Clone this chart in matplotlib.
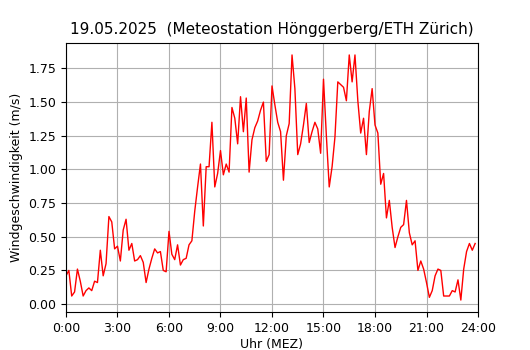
import numpy as np
import matplotlib
matplotlib.use("Agg")
import matplotlib.pyplot as plt

# wind speed every 10 minutes (m/s), 00:00 .. 23:50
wind = [0.21, 0.25, 0.06, 0.09, 0.26, 0.17, 0.06, 0.10, 0.12, 0.10, 0.17, 0.16,
        0.40, 0.21, 0.30, 0.65, 0.61, 0.41, 0.43, 0.32, 0.55, 0.63, 0.40, 0.45,
        0.32, 0.33, 0.36, 0.31, 0.16, 0.26, 0.34, 0.41, 0.38, 0.39, 0.25, 0.24,
        0.54, 0.37, 0.33, 0.44, 0.29, 0.33, 0.34, 0.44, 0.47, 0.69, 0.87, 1.04,
        0.58, 1.02, 1.02, 1.35, 0.87, 0.97, 1.14, 0.96, 1.04, 0.98, 1.46, 1.38,
        1.19, 1.54, 1.28, 1.53, 0.98, 1.22, 1.31, 1.36, 1.44, 1.50, 1.06, 1.11,
        1.62, 1.48, 1.35, 1.28, 0.92, 1.25, 1.34, 1.85, 1.60, 1.11, 1.19, 1.33,
        1.49, 1.20, 1.28, 1.35, 1.30, 1.12, 1.67, 1.25, 0.87, 1.02, 1.24, 1.65,
        1.63, 1.61, 1.51, 1.85, 1.65, 1.85, 1.51, 1.27, 1.38, 1.11, 1.43, 1.60,
        1.33, 1.27, 0.89, 0.97, 0.64, 0.77, 0.57, 0.42, 0.50, 0.57, 0.59, 0.77,
        0.53, 0.44, 0.47, 0.25, 0.32, 0.26, 0.16, 0.05, 0.10, 0.21, 0.26, 0.25,
        0.06, 0.06, 0.06, 0.10, 0.09, 0.18, 0.03, 0.26, 0.39, 0.45, 0.40, 0.45]
hours = np.arange(len(wind)) / 6.0

tick_hours = [0, 3, 6, 9, 12, 15, 18, 21, 24]
tick_labels = ["0:00", "3:00", "6:00", "9:00", "12:00", "15:00", "18:00", "21:00", "24:00"]

fig = plt.figure(figsize=(5.3, 3.5), dpi=100)
ax = fig.add_axes([0.1245, 0.1077, 0.7774, 0.7703])
ax.plot(hours, wind, color="red", linewidth=1)
ax.set_xlim(0, 24)
ax.set_xticks(tick_hours)
ax.set_xticklabels(tick_labels)
ax.grid(True)
ax.set_xlabel("Uhr (MEZ)", fontsize=9, labelpad=2)
ax.set_ylabel("Windgeschwindigkeit (m/s)", fontsize=9)
ax.tick_params(labelsize=9)
ax.set_title("19.05.2025  (Meteostation Hönggerberg/ETH Zürich)", fontsize=11)
fig.savefig("out.png", dpi=100)
